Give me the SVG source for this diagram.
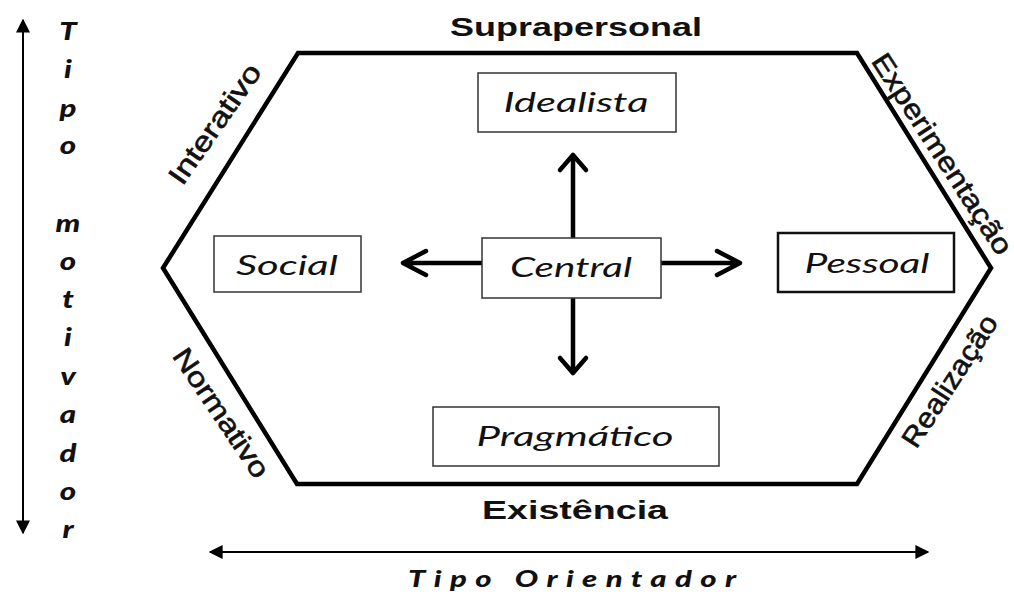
<svg xmlns="http://www.w3.org/2000/svg" width="1014" height="595" viewBox="0 0 1014 595">
<style>
.hex{fill:none;stroke:#000;stroke-width:4.5;stroke-linejoin:miter}
.box{fill:#fff;stroke:#333;stroke-width:1.5}
.boxb{fill:#fff;stroke:#111;stroke-width:2.5}
.lbl{font-family:Lato,"Open Sans",sans-serif;font-style:italic;font-size:27px;fill:#111;text-anchor:middle}
.edge{font-family:"Liberation Sans",Arial,sans-serif;font-size:28px;fill:#111;stroke:#111;stroke-width:0.6;text-anchor:middle}
.axis{font-family:"Liberation Sans",Arial,sans-serif;font-weight:bold;font-size:26px;fill:#111;text-anchor:middle}
.vert{font-family:Lato,"Open Sans",sans-serif;font-weight:900;font-style:italic;font-size:24px;fill:#111;text-anchor:middle}
.horiz{font-family:Lato,"Open Sans",sans-serif;font-weight:900;font-style:italic;font-size:23px;fill:#111}
.conn{fill:none;stroke:#000;stroke-width:4.5;stroke-linecap:round;stroke-linejoin:round}
.thin{fill:none;stroke:#000;stroke-width:2}
</style>
<defs>
<marker id="tri" viewBox="0 0 10 10" refX="9" refY="5" markerWidth="7" markerHeight="7" orient="auto-start-reverse" markerUnits="strokeWidth">
<path d="M0,0 L10,5 L0,10 z" fill="#000"/>
</marker>
</defs>
<rect width="1014" height="595" fill="#fff"/>

<g id="hexagon">
<polygon class="hex" points="298,53 857,53 991,268 857,484 297,484 163,268"/>
</g>

<g id="edge-labels">
<text class="axis" x="576" y="36" textLength="252" lengthAdjust="spacingAndGlyphs">Suprapersonal</text>
<text class="axis" x="575" y="519" textLength="186" lengthAdjust="spacingAndGlyphs">Existência</text>
<text class="edge" transform="translate(215,124) rotate(-55)" dy="0.33em" textLength="140" lengthAdjust="spacingAndGlyphs">Interativo</text>
<text class="edge" transform="translate(942,154) rotate(57)" dy="0.33em" textLength="234" lengthAdjust="spacingAndGlyphs">Experimentação</text>
<text class="edge" transform="translate(221,413) rotate(56)" dy="0.33em" textLength="150" lengthAdjust="spacingAndGlyphs">Normativo</text>
<text class="edge" transform="translate(950,381) rotate(-57)" dy="0.33em" textLength="152" lengthAdjust="spacingAndGlyphs">Realização</text>
</g>

<g id="connectors">
<path class="conn" d="M573,238 V155 M560,170 L573,155 L586,170"/>
<path class="conn" d="M482,263 H403 M426,251 L403,263 L426,275"/>
<path class="conn" d="M661,263 H740 M717,251 L740,263 L717,275"/>
<path class="conn" d="M573,298 V373 M560,358 L573,373 L586,358"/>
</g>

<g id="node-idealista">
<rect class="box" x="478" y="73" width="198" height="59"/>
<text class="lbl" x="576" y="112" textLength="145" lengthAdjust="spacingAndGlyphs">Idealista</text>
</g>
<g id="node-central">
<rect class="box" x="482" y="238" width="179" height="60"/>
<text class="lbl" x="571" y="277" textLength="122" lengthAdjust="spacingAndGlyphs">Central</text>
</g>
<g id="node-social">
<rect class="box" x="214" y="236" width="147" height="56"/>
<text class="lbl" x="287" y="275" textLength="102" lengthAdjust="spacingAndGlyphs">Social</text>
</g>
<g id="node-pessoal">
<rect class="boxb" x="778" y="233" width="176" height="59"/>
<text class="lbl" x="867" y="273" textLength="125" lengthAdjust="spacingAndGlyphs">Pessoal</text>
</g>
<g id="node-pragmatico">
<rect class="box" x="433" y="407" width="286" height="59"/>
<text class="lbl" x="575" y="446" textLength="197" lengthAdjust="spacingAndGlyphs">Pragmático</text>
</g>

<g id="axis-motivador">
<line class="thin" x1="23" y1="20" x2="23" y2="533" marker-start="url(#tri)" marker-end="url(#tri)"/>
<g transform="translate(68,0) scale(1.3,1)">
<text class="vert"><tspan x="0" y="40">T</tspan><tspan x="0" y="78">i</tspan><tspan x="0" y="117">p</tspan><tspan x="0" y="154">o</tspan><tspan x="0" y="232">m</tspan><tspan x="0" y="270">o</tspan><tspan x="0" y="308">t</tspan><tspan x="0" y="346">i</tspan><tspan x="0" y="385">v</tspan><tspan x="0" y="423">a</tspan><tspan x="0" y="462">d</tspan><tspan x="0" y="500">o</tspan><tspan x="0" y="538">r</tspan></text>
</g>
</g>

<g id="axis-orientador">
<line class="thin" x1="210" y1="552" x2="928" y2="552" marker-start="url(#tri)" marker-end="url(#tri)"/>
<text class="horiz" transform="translate(408,587) scale(1.35,1)" x="0" y="0" textLength="243" lengthAdjust="spacing">Tipo Orientador</text>
</g>
</svg>
